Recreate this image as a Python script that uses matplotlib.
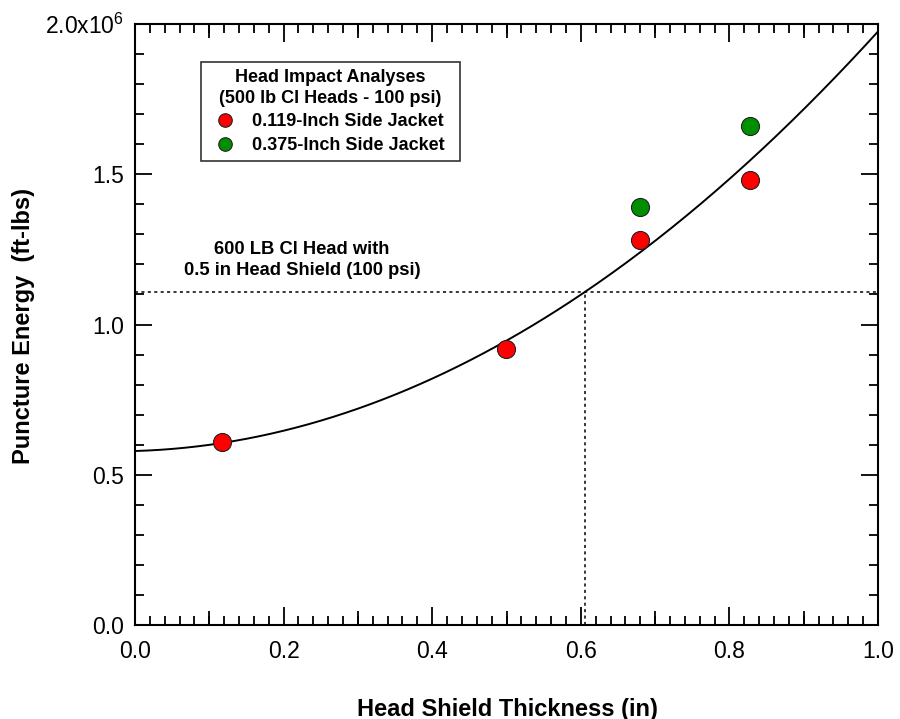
import numpy as np
import matplotlib
matplotlib.use("Agg")
import matplotlib.pyplot as plt
from matplotlib.ticker import MultipleLocator, FixedLocator

plt.rcParams["font.family"] = ["Liberation Sans", "DejaVu Sans"]
plt.rcParams["mathtext.fontset"] = "custom"
plt.rcParams["mathtext.rm"] = "Liberation Sans"
plt.rcParams["mathtext.it"] = "Liberation Sans"

# Head impact analyses: shield thickness (in) vs puncture energy (ft-lbs)
thin_jacket_x = [0.117, 0.499, 0.68, 0.828]
thin_jacket_y = [0.609e6, 0.918e6, 1.281e6, 1.481e6]
thick_jacket_x = [0.68, 0.828]
thick_jacket_y = [1.39e6, 1.661e6]

# Quadratic fit of puncture energy vs thickness: c0 + c1*t + c2*t^2
fit_coeffs = [0.579e6, 0.073e6, 1.323e6]

# Reference case: 600 lb CI head with 0.5 in head shield
ref_energy = 1.109e6
ref_thickness = 0.606

y_ticks = [0.0, 0.5e6, 1.0e6, 1.5e6, 2.0e6]
y_tick_labels = ["0.0", "0.5", "1.0", "1.5", "2.0x10$^6$"]
x_ticks = [0.0, 0.2, 0.4, 0.6, 0.8, 1.0]
x_tick_labels = ["0.0", "0.2", "0.4", "0.6", "0.8", "1.0"]

fig = plt.figure(figsize=(9.0, 7.19), dpi=100)
ax = fig.add_axes([135 / 900, 1 - 625 / 719, 743 / 900, 601 / 719])

t = np.linspace(0.0, 1.0, 300)
ax.plot(t, np.polyval(fit_coeffs[::-1], t), color="black", lw=1.4, zorder=3)

dot = (0, (2.0, 2.2))
ax.axhline(ref_energy, color="black", lw=1.1, ls=dot, zorder=2)
ax.plot([ref_thickness, ref_thickness], [0, ref_energy], color="black",
        lw=1.1, ls=dot, zorder=2)

mk = dict(marker="o", ls="none", ms=13, mec="#222222", mew=0.8, zorder=4)
ax.plot(thin_jacket_x, thin_jacket_y, mfc="#ff0000",
        label="0.119-Inch Side Jacket", **mk)
ax.plot(thick_jacket_x, thick_jacket_y, mfc="#008f00",
        label="0.375-Inch Side Jacket", **mk)

ax.set_xlim(0, 1.0)
ax.set_ylim(0, 2.0e6)

ax.xaxis.set_major_locator(FixedLocator(x_ticks))
ax.set_xticklabels(x_tick_labels)
ax.xaxis.set_minor_locator(MultipleLocator(0.02))
ax.yaxis.set_major_locator(FixedLocator(y_ticks))
ax.set_yticklabels(y_tick_labels)
ax.yaxis.set_minor_locator(MultipleLocator(0.1e6))

ax.tick_params(which="both", direction="in", top=True, right=True,
               width=1.3, color="black")
ax.tick_params(axis="x", which="major", length=13, labelsize=16.5, pad=11)
ax.tick_params(axis="y", which="major", length=12.5, labelsize=16.5, pad=8)
ax.tick_params(which="minor", length=6.5)

# intermediate ticks at the odd tenths along both horizontal edges
for side in ("bottom", "top"):
    sec = ax.secondary_xaxis(side)
    sec.xaxis.set_major_locator(FixedLocator([0.1, 0.3, 0.5, 0.7, 0.9]))
    sec.tick_params(direction="in", length=10, width=1.3, labelbottom=False,
                    labeltop=False)
    sec.spines[side].set_visible(False)

for s in ax.spines.values():
    s.set_linewidth(1.5)

ax.set_xlabel("Head Shield Thickness (in)", fontsize=17, fontweight="bold")
ax.xaxis.label.set_va("center")
ax.xaxis.set_label_coords(0.501, -0.14)
ax.set_ylabel("Puncture Energy  (ft-lbs)", fontsize=17, fontweight="bold")
ax.yaxis.label.set_va("center")
ax.yaxis.set_label_coords(-0.15, 0.497)

ax.text(0.225, 1.215e6, "600 LB Cl Head with\n0.5 in Head Shield (100 psi)",
        ha="center", va="center", fontsize=13.2, fontweight="bold",
        linespacing=1.25)

leg = ax.legend(loc="upper left", mode="expand",
                bbox_to_anchor=(0.0888, 0.772, 0.3486, 0.165),
                borderaxespad=0,
                title="Head Impact Analyses\n(500 lb Cl Heads - 100 psi)",
                prop=dict(size=13, weight="bold"), markerscale=0.75,
                frameon=True, fancybox=False, edgecolor="black",
                handlelength=1.9, handletextpad=0.5, labelspacing=0.36,
                borderpad=0.4, alignment="center")
leg.get_title().set_fontweight("bold")
leg.get_title().set_fontsize(13)
leg.get_title().set_multialignment("center")
leg.get_title().set_linespacing(1.3)
leg.get_frame().set_linewidth(1.2)

fig.savefig("out.png", dpi=100, facecolor="white")
